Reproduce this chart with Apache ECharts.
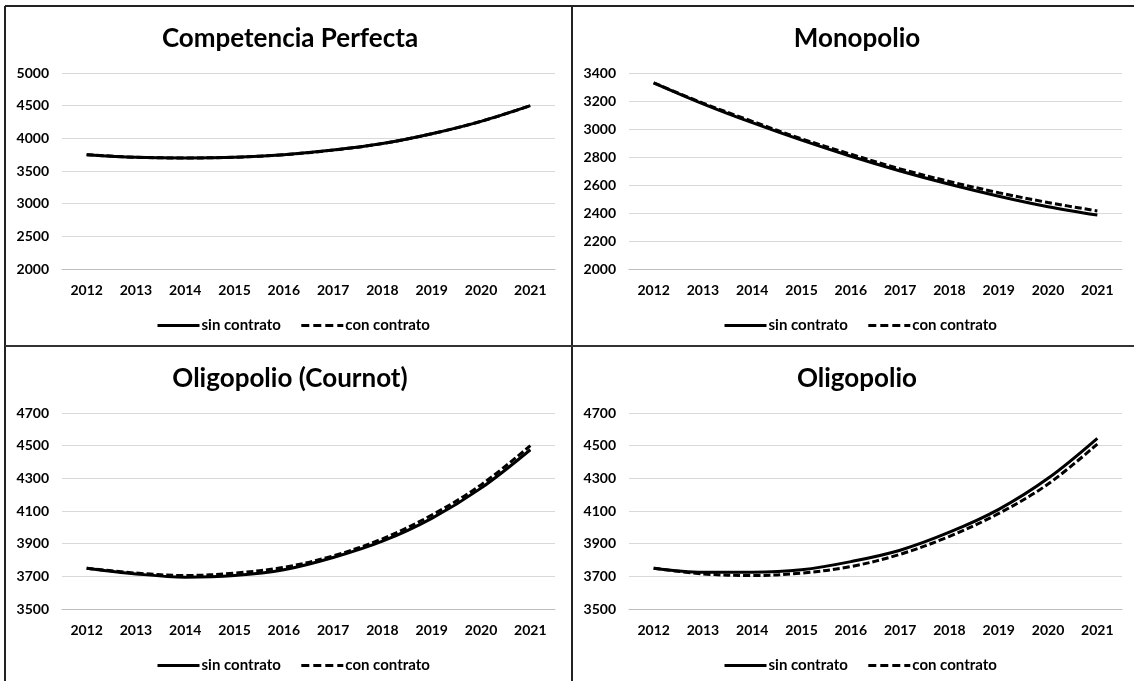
<!DOCTYPE html>
<html>
<head>
<meta charset="utf-8">
<title>Competencia vs Monopolio vs Oligopolio</title>
<script src="https://cdn.jsdelivr.net/npm/echarts@6/dist/echarts.min.js"></script>
<style>
    html, body { margin: 0; padding: 0; background: #fff; }
    #main { width: 1134px; height: 681px; }
</style>
</head>
<body>
<div id="main"></div>
<script>
// años (eje x)
var years = ['2012', '2013', '2014', '2015', '2016', '2017', '2018', '2019', '2020', '2021'];
var seriesNames = ['sin contrato', 'con contrato'];

// Competencia Perfecta
var cpSin = [3750, 3710, 3700, 3710, 3750, 3820, 3920, 4070, 4260, 4500];
var cpCon = [3750, 3710, 3700, 3710, 3750, 3820, 3920, 4070, 4260, 4500];

// Monopolio
var monoSin = [3330, 3180, 3045, 2920, 2805, 2700, 2605, 2520, 2445, 2385];
var monoCon = [3330, 3185, 3055, 2930, 2820, 2715, 2625, 2545, 2475, 2415];

// Oligopolio (Cournot)
var cournotSin = [3750, 3715, 3695, 3705, 3740, 3815, 3915, 4055, 4240, 4475];
var cournotCon = [3750, 3720, 3705, 3720, 3755, 3825, 3930, 4075, 4260, 4500];

// Oligopolio
var oligoSin = [3750, 3725, 3725, 3740, 3790, 3860, 3970, 4110, 4300, 4545];
var oligoCon = [3750, 3715, 3705, 3720, 3760, 3835, 3945, 4085, 4265, 4510];

// escalas de los ejes y
var yScales = [
    {min: 2000, max: 5000, interval: 500},
    {min: 2000, max: 3400, interval: 200},
    {min: 3500, max: 4700, interval: 200},
    {min: 3500, max: 4700, interval: 200}
];
var titles = ['Competencia Perfecta', 'Monopolio', 'Oligopolio (Cournot)', 'Oligopolio'];
var panelData = [[cpSin, cpCon], [monoSin, monoCon], [cournotSin, cournotCon], [oligoSin, oligoCon]];

var FONT = 'Lato';
var DASH = [7, 3];
var chart = echarts.init(document.getElementById('main'));

// posiciones de cada panel
var panels = [
    {x: 5, y: 6, gridLeft: 62, gridTop: 73},
    {x: 572, y: 6, gridLeft: 629, gridTop: 73},
    {x: 5, y: 346, gridLeft: 62, gridTop: 413},
    {x: 572, y: 346, gridLeft: 629, gridTop: 413}
];

var option = {
    backgroundColor: '#fff',
    animation: false,
    title: [],
    legend: [],
    grid: [],
    xAxis: [],
    yAxis: [],
    series: [],
    graphic: []
};

panels.forEach(function (p, i) {
    option.title.push({
        text: titles[i],
        left: p.x + 280,
        top: p.y + 15,
        textAlign: 'center',
        textStyle: {fontFamily: FONT, fontWeight: 'bold', fontSize: 26, color: '#000'}
    });
    option.legend.push({
        data: [
            {name: seriesNames[0], lineStyle: {width: 3, type: 'solid'}},
            {name: seriesNames[1], lineStyle: {width: 3, type: [8, 4]}}
        ],
        left: p.x + 146,
        top: p.y + 307,
        itemWidth: 42,
        itemHeight: 14,
        itemGap: 19,
        itemStyle: {opacity: 0},
        textStyle: {fontFamily: FONT, fontWeight: 'bold', fontSize: 15, color: '#000', padding: [0, 0, 0, -3]}
    });
    option.grid.push({
        left: p.gridLeft,
        top: p.gridTop,
        width: 493,
        height: 196
    });
    option.xAxis.push({
        type: 'category',
        gridIndex: i,
        data: years,
        boundaryGap: true,
        axisTick: {show: false},
        axisLine: {lineStyle: {color: '#bfbfbf', width: 1}},
        axisLabel: {fontFamily: FONT, fontWeight: 'bold', fontSize: 14, color: '#000', margin: 14}
    });
    option.yAxis.push({
        type: 'value',
        gridIndex: i,
        min: yScales[i].min,
        max: yScales[i].max,
        interval: yScales[i].interval,
        axisLine: {show: false},
        axisTick: {show: false},
        splitLine: {lineStyle: {color: '#d9d9d9', width: 1}},
        axisLabel: {
            fontFamily: FONT, fontWeight: 'bold', fontSize: 14, color: '#000', margin: 13,
            formatter: function (v) { return String(v); }
        }
    });
    option.series.push({
        name: seriesNames[0],
        type: 'line',
        xAxisIndex: i,
        yAxisIndex: i,
        data: panelData[i][0],
        smooth: 0.35,
        symbol: 'none',
        lineStyle: {color: '#000', width: 3, type: 'solid'},
        itemStyle: {color: '#000'}
    });
    option.series.push({
        name: seriesNames[1],
        type: 'line',
        xAxisIndex: i,
        yAxisIndex: i,
        data: panelData[i][1],
        smooth: 0.35,
        symbol: 'none',
        z: 3,
        lineStyle: {color: '#000', width: 3, type: DASH},
        itemStyle: {color: '#000'}
    });
});

// marco y divisiones
var frameStyle = {stroke: '#222', lineWidth: 2};
option.graphic = [
    {type: 'line', shape: {x1: 5, y1: 6, x2: 1134, y2: 6}, style: frameStyle, silent: true},
    {type: 'line', shape: {x1: 5, y1: 6, x2: 5, y2: 681}, style: frameStyle, silent: true},
    {type: 'line', shape: {x1: 572, y1: 6, x2: 572, y2: 681}, style: frameStyle, silent: true},
    {type: 'line', shape: {x1: 5, y1: 346, x2: 1134, y2: 346}, style: {stroke: '#333', lineWidth: 2}, silent: true}
];

chart.setOption(option);
</script>
</body>
</html>
